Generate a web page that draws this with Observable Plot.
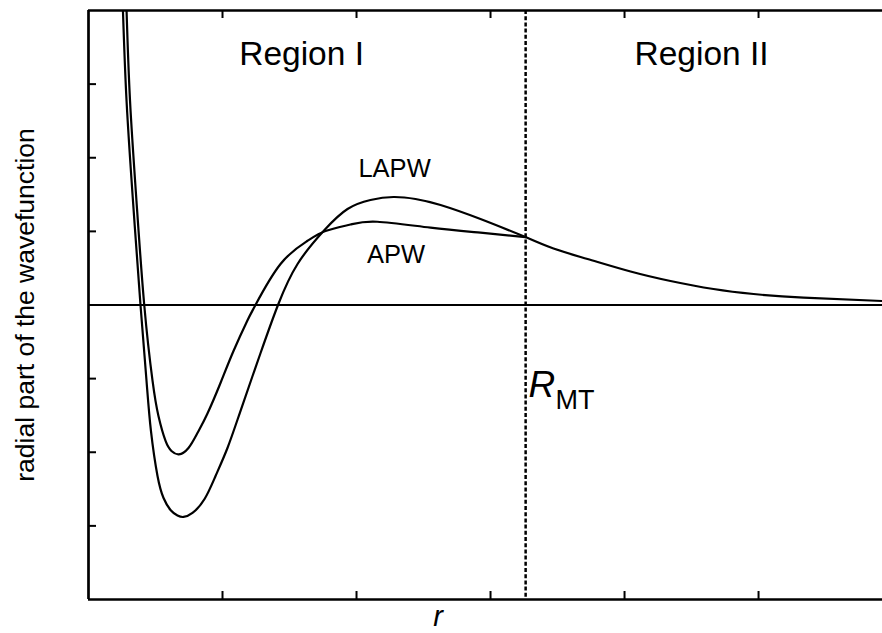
<!DOCTYPE html>
<html>
<head>
<meta charset="utf-8">
<script src="https://cdn.jsdelivr.net/npm/d3@7"></script>
<script src="https://cdn.jsdelivr.net/npm/@observablehq/plot@0.6"></script>
<style>
  html, body { margin: 0; padding: 0; background: #fff; }
  #chart svg { display: block; }
</style>
</head>
<body>
<div id="chart"></div>
<script>
// LAPW radial function (region I)
const lapwR   = [0.257, 0.284, 0.332, 0.388, 0.433, 0.466, 0.515, 0.560, 0.612, 0.664, 0.709, 0.776, 0.866, 0.948, 1.037, 1.134, 1.284, 1.414, 1.560, 1.761, 1.933, 2.104, 2.276, 2.440, 2.627, 2.925, 3.261];
const lapwPsi = [4.0,   2.771, 1.413, 0,     -1.032, -1.711, -2.322, -2.621, -2.784, -2.859, -2.879, -2.825, -2.635, -2.323, -1.942, -1.440, -0.652, 0, 0.557, 1.019, 1.304, 1.426, 1.467, 1.440, 1.358, 1.168, 0.923];
// APW radial function (region I)
const apwR    = [0.284, 0.310, 0.358, 0.416, 0.478, 0.522, 0.575, 0.619, 0.674, 0.746, 0.813, 0.886, 0.985, 1.082, 1.184, 1.246, 1.433, 1.632, 1.769, 1.955, 2.154, 2.552, 2.925, 3.261];
const apwPsi  = [4.0,   2.771, 1.413, 0,     -1.032, -1.508, -1.847, -1.983, -2.028, -1.942, -1.739, -1.480, -1.059, -0.625, -0.217, 0, 0.557, 0.869, 1.005, 1.093, 1.131, 1.050, 0.982, 0.923];
// shared tail (region II)
const tailR   = [3.261, 3.470, 3.724, 4.045, 4.343, 4.664, 4.963, 5.336, 5.925];
const tailPsi = [0.923, 0.767, 0.625, 0.455, 0.326, 0.217, 0.149, 0.099, 0.054];

const rMT = 3.262;
const xTicks = [1, 2, 3, 4, 5];
const yTicks = [-3, -2, -1, 1, 2, 3];

const regionLabels = [
  {x: 1.59, y: 3.253, text: "Region I"},
  {x: 4.575, y: 3.253, text: "Region II"}
];
const curveLabels = [
  {x: 2.284, y: 1.732, text: "LAPW"},
  {x: 2.295, y: 0.564, text: "APW"}
];

const toPts = (xs, ys) => xs.map((x, i) => ({x, y: ys[i]}));
const lapw = toPts(lapwR, lapwPsi);
const apw = toPts(apwR, apwPsi);
const tail = toPts(tailR, tailPsi);

const W = 882, H = 633, mT = 10, mB = 34, mL = 88, mR = 0;
const frameH = H - mT - mB;
const frameW = W - mL - mR;
const tickLen = 8;
const font = "'Liberation Sans', Arial, Helvetica, sans-serif";
const lw = 2.2;

const chart = Plot.plot({
  width: W,
  height: H,
  marginTop: mT,
  marginBottom: mB,
  marginLeft: mL,
  marginRight: mR,
  style: {fontFamily: font, background: "#fff", overflow: "visible"},
  x: {domain: [0, 5.925], axis: null},
  y: {domain: [-4, 4], axis: null},
  marks: [
    // frame lines
    Plot.ruleY([4, -4], {stroke: "#000", strokeWidth: 2.7}),
    Plot.ruleX([0], {stroke: "#000", strokeWidth: 2.7}),
    // inward ticks
    Plot.ruleX(xTicks, {stroke: "#000", strokeWidth: 2, insetTop: frameH - tickLen}),
    Plot.ruleX(xTicks, {stroke: "#000", strokeWidth: 2, insetBottom: frameH - tickLen}),
    Plot.ruleY(yTicks, {stroke: "#000", strokeWidth: 2, insetRight: frameW - tickLen}),
    // zero line
    Plot.ruleY([0], {stroke: "#000", strokeWidth: 2}),
    // muffin-tin radius
    Plot.ruleX([rMT], {stroke: "#000", strokeWidth: 2.5, strokeDasharray: "4,2.2"}),
    // curves
    Plot.line(lapw, {x: "x", y: "y", curve: "natural", stroke: "#000", strokeWidth: lw, clip: true}),
    Plot.line(apw, {x: "x", y: "y", curve: "natural", stroke: "#000", strokeWidth: lw, clip: true}),
    Plot.line(tail, {x: "x", y: "y", curve: "natural", stroke: "#000", strokeWidth: lw, clip: true}),
    // labels
    Plot.text(regionLabels, {x: "x", y: "y", text: "text", fontSize: 33.5, lineAnchor: "bottom", fill: "#000"}),
    Plot.text(curveLabels, {x: "x", y: "y", text: "text", fontSize: 25.5, lineAnchor: "bottom", fill: "#000"}),
    Plot.text(["R"], {x: 3.284, y: -1.243, text: d => d, fontSize: 37, fontStyle: "italic", textAnchor: "start", lineAnchor: "bottom", fill: "#000"}),
    Plot.text(["MT"], {x: 3.485, y: -1.406, text: d => d, fontSize: 27, textAnchor: "start", lineAnchor: "bottom", fill: "#000"}),
    Plot.text(["r"], {x: 2.608, y: -4.36, text: d => d, fontSize: 29, fontStyle: "italic", lineAnchor: "bottom", fill: "#000"}),
    Plot.text(["radial part of the wavefunction"], {x: -0.408, y: 0, text: d => d, fontSize: 26.5, rotate: -90, lineAnchor: "bottom", fill: "#000"})
  ]
});
document.getElementById("chart").appendChild(chart);
</script>
</body>
</html>
